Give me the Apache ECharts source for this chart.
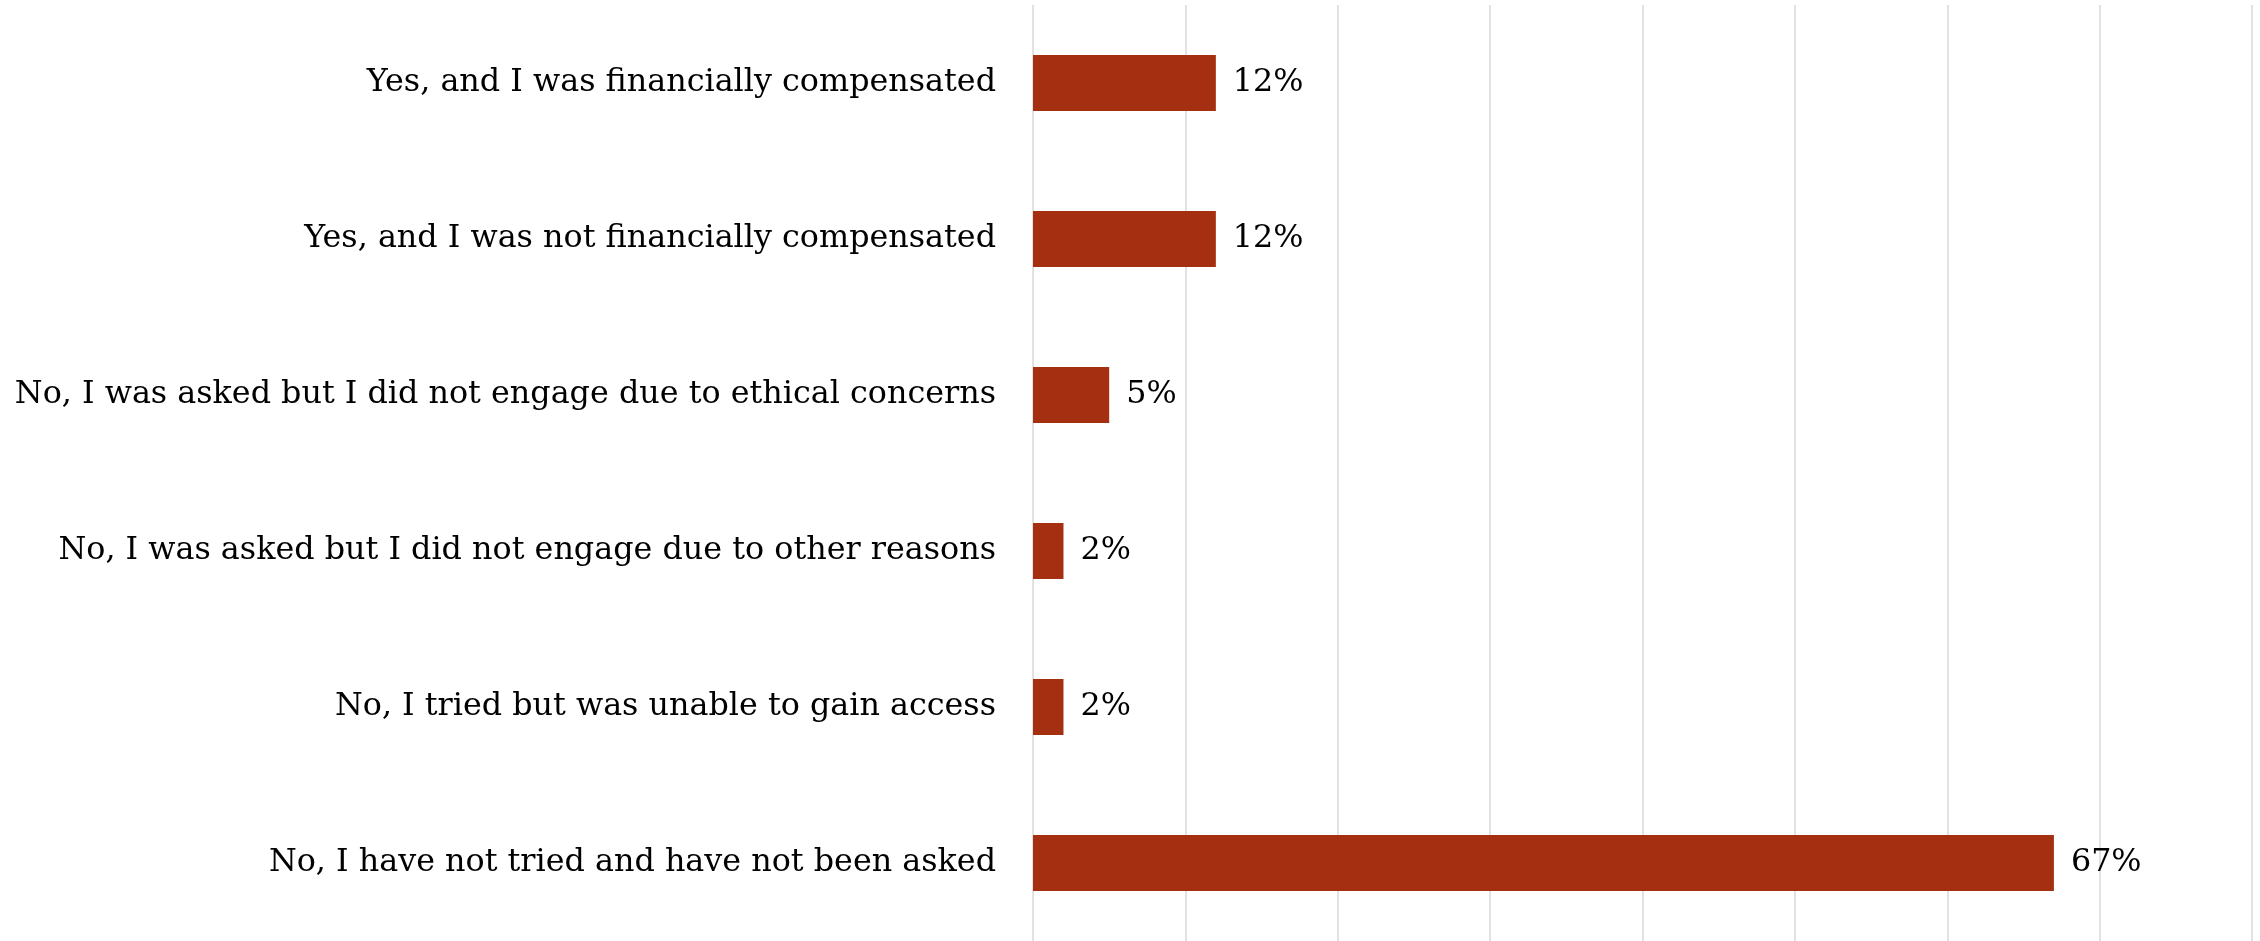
<!DOCTYPE html>
<html>
<head>
<meta charset="utf-8">
<script src="https://cdn.jsdelivr.net/npm/echarts@6/dist/echarts.min.js"></script>
<style>
html,body{margin:0;padding:0;background:#fff;}
#chart{width:2260px;height:941px;}
</style>
</head>
<body>
<div id="chart"></div>
<script>
const categories = [
  "Yes, and I was financially compensated",
  "Yes, and I was not financially compensated",
  "No, I was asked but I did not engage due to ethical concerns",
  "No, I was asked but I did not engage due to other reasons",
  "No, I tried but was unable to gain access",
  "No, I have not tried and have not been asked"
];
const values = [12, 12, 5, 2, 2, 67];

const FONT = "'DejaVu Serif', 'Liberation Serif', serif";
// size the label font so the longest label spans about the same width as in the reference
const cv = document.createElement('canvas').getContext('2d');
cv.font = "100px 'DejaVu Serif'";
const w100 = cv.measureText(categories[2]).width;
const fontSize = Math.round(982 / w100 * 100 * 10) / 10;

const chart = echarts.init(document.getElementById('chart'), null, {renderer: 'canvas'});
chart.setOption({
  animation: false,
  backgroundColor: '#ffffff',
  grid: {left: 1033, right: 8, top: 5, bottom: 0, containLabel: false},
  xAxis: {
    type: 'value', min: 0, max: 80, interval: 10,
    axisLabel: {show: false}, axisLine: {show: false}, axisTick: {show: false},
    splitLine: {show: true, lineStyle: {color: '#D9D9D9', width: 1.5}}
  },
  yAxis: {
    type: 'category', data: categories, inverse: true,
    axisLine: {show: false}, axisTick: {show: false},
    axisLabel: {color: '#000000', fontFamily: FONT, fontSize: fontSize, margin: 37}
  },
  series: [{
    type: 'bar', data: values, barWidth: '36%',
    itemStyle: {color: '#A52F11'},
    label: {show: true, position: 'right', distance: 17, formatter: '{c}%',
            color: '#000000', fontFamily: FONT, fontSize: fontSize}
  }]
});
</script>
</body>
</html>
